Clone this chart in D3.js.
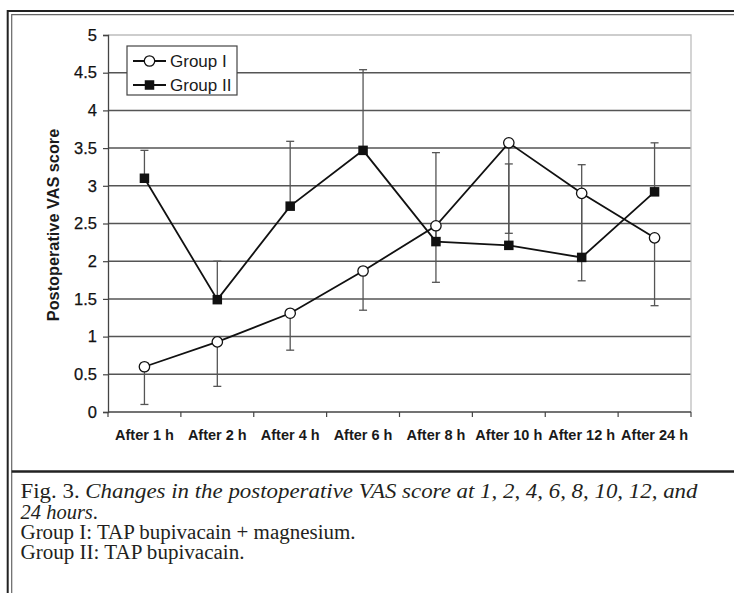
<!DOCTYPE html>
<html>
<head>
<meta charset="utf-8">
<script src="https://cdn.jsdelivr.net/npm/d3@7"></script>
<style>
  html, body { margin: 0; padding: 0; background: #fff; }
  svg { display: block; }
</style>
</head>
<body>
<svg id="chart" width="734" height="593"></svg>
<script>
// ---- Data ----
const categories = ["After 1 h", "After 2 h", "After 4 h", "After 6 h", "After 8 h", "After 10 h", "After 12 h", "After 24 h"];
const groupIMean  = [0.60, 0.93, 1.31, 1.87, 2.47, 3.57, 2.90, 2.31];
const groupIErr   = [0.50, 0.59, 0.49, 0.52, 0.75, 1.20, 1.16, 0.90]; // drawn downward
const groupIIMean = [3.10, 1.49, 2.73, 3.47, 2.26, 2.21, 2.05, 2.92];
const groupIIErr  = [0.37, 0.51, 0.86, 1.07, 1.18, 1.08, 1.23, 0.65]; // drawn upward
const yTicks = [0, 0.5, 1, 1.5, 2, 2.5, 3, 3.5, 4, 4.5, 5];
const seriesNames = ["Group I", "Group II"];
const yTitle = "Postoperative VAS score";

const svg = d3.select("#chart");
const sans = "Arial, 'Liberation Sans', sans-serif";
const serif = "'Liberation Serif', 'Times New Roman', serif";

const x = d3.scaleBand().domain(categories).range([108, 691]);
const y = d3.scaleLinear().domain([0, 5]).range([412, 35]);
const cx = c => x(c) + x.bandwidth() / 2;

// ---- Frame ----
svg.append("path").attr("d", "M7.7,593V11H734").attr("fill", "none").attr("stroke", "#222").attr("stroke-width", 2);
svg.append("path").attr("d", "M11.7,593V14.7H734").attr("fill", "none").attr("stroke", "#666").attr("stroke-width", 1.2);
svg.append("path").attr("d", "M11.7,471.5H734").attr("fill", "none").attr("stroke", "#222").attr("stroke-width", 2.5);

// ---- Grid ----
const g = svg.append("g");
g.selectAll("line.grid").data(yTicks.filter(t => t > 0 && t < 5)).join("line")
  .attr("class", "grid")
  .attr("x1", x.range()[0]).attr("x2", x.range()[1])
  .attr("y1", d => y(d)).attr("y2", d => y(d))
  .attr("stroke", "#555").attr("stroke-width", 1.5);

// plot area border (light)
g.append("path")
  .attr("d", `M${x.range()[0]},${y(5)}H${x.range()[1]}V${y(0)}`)
  .attr("fill", "none").attr("stroke", "#bdbdbd").attr("stroke-width", 1.3);

// ---- Axes ----
const yAxis = d3.axisLeft(y).tickValues(yTicks).tickSize(5).tickPadding(6).tickFormat(d => String(d));
const ya = g.append("g").attr("transform", `translate(${x.range()[0]},0)`).call(yAxis);
ya.select(".domain").attr("stroke", "#444").attr("stroke-width", 1.3);
ya.selectAll(".tick line").attr("stroke", "#444").attr("stroke-width", 1.2);
ya.selectAll(".tick text").attr("font-family", sans).attr("font-size", 16.5).attr("fill", "#111")
  .attr("stroke", "#111").attr("stroke-width", 0.25);

// x axis line
g.append("line").attr("x1", x.range()[0]).attr("x2", x.range()[1])
  .attr("y1", y(0)).attr("y2", y(0)).attr("stroke", "#444").attr("stroke-width", 1.4);
// boundary ticks
const bounds = categories.map(c => x(c)).concat([x.range()[1]]);
g.selectAll("line.xt").data(bounds).join("line").attr("class", "xt")
  .attr("x1", d => d).attr("x2", d => d).attr("y1", y(0)).attr("y2", y(0) + 5)
  .attr("stroke", "#444").attr("stroke-width", 1.2);
// category labels
g.selectAll("text.xl").data(categories).join("text").attr("class", "xl")
  .attr("x", d => cx(d)).attr("y", 440)
  .attr("text-anchor", "middle").attr("font-family", sans).attr("font-weight", "bold")
  .attr("font-size", 14.5).attr("fill", "#1a1a1a").text(d => d);

// y title
g.append("text").attr("transform", "translate(59,225) rotate(-90)")
  .attr("text-anchor", "middle").attr("font-family", sans).attr("font-weight", "bold")
  .attr("font-size", 16.3).attr("fill", "#1a1a1a").text(yTitle);

// ---- Error bars ----
function errBars(means, errs, dir) {
  const data = categories.map((c, i) => ({ c, m: means[i], e: errs[i] }));
  const eg = g.append("g").attr("stroke", "#555").attr("stroke-width", 1.3);
  eg.selectAll("line.v").data(data).join("line")
    .attr("x1", d => cx(d.c)).attr("x2", d => cx(d.c))
    .attr("y1", d => y(d.m)).attr("y2", d => y(d.m + dir * d.e));
  eg.selectAll("line.cap").data(data).join("line")
    .attr("x1", d => cx(d.c) - 4).attr("x2", d => cx(d.c) + 4)
    .attr("y1", d => y(d.m + dir * d.e)).attr("y2", d => y(d.m + dir * d.e));
}
errBars(groupIMean, groupIErr, -1);
errBars(groupIIMean, groupIIErr, 1);

// ---- Lines ----
const line = d3.line().x((d, i) => cx(categories[i])).y(d => y(d));
g.append("path").datum(groupIMean).attr("d", line).attr("fill", "none").attr("stroke", "#111").attr("stroke-width", 1.8);
g.append("path").datum(groupIIMean).attr("d", line).attr("fill", "none").attr("stroke", "#111").attr("stroke-width", 1.8);

// ---- Markers ----
g.selectAll("circle.m1").data(groupIMean).join("circle").attr("class", "m1")
  .attr("cx", (d, i) => cx(categories[i])).attr("cy", d => y(d)).attr("r", 5.2)
  .attr("fill", "#fff").attr("stroke", "#111").attr("stroke-width", 1.3);
const sq = 9.5;
g.selectAll("rect.m2").data(groupIIMean).join("rect").attr("class", "m2")
  .attr("x", (d, i) => cx(categories[i]) - sq / 2).attr("y", d => y(d) - sq / 2)
  .attr("width", sq).attr("height", sq).attr("fill", "#111");

// ---- Legend ----
const lg = svg.append("g");
lg.append("rect").attr("x", 127).attr("y", 46).attr("width", 110).attr("height", 49)
  .attr("fill", "#fff").attr("stroke", "#444").attr("stroke-width", 1.2);
const rows = [61, 85];
seriesNames.forEach((name, i) => {
  lg.append("line").attr("x1", 133).attr("x2", 166).attr("y1", rows[i]).attr("y2", rows[i])
    .attr("stroke", "#111").attr("stroke-width", 1.8);
  if (i === 0) {
    lg.append("circle").attr("cx", 149.5).attr("cy", rows[i]).attr("r", 5.2)
      .attr("fill", "#fff").attr("stroke", "#111").attr("stroke-width", 1.3);
  } else {
    lg.append("rect").attr("x", 149.5 - sq / 2).attr("y", rows[i] - sq / 2)
      .attr("width", sq).attr("height", sq).attr("fill", "#111");
  }
  lg.append("text").attr("x", 170).attr("y", rows[i] + 5.5)
    .attr("font-family", sans).attr("font-size", 17).attr("fill", "#1a1a1a").text(name);
});

// ---- Caption ----
const cap = svg.append("g").attr("font-family", serif).attr("font-size", 20.5).attr("fill", "#231f20");
const l1 = cap.append("text").attr("x", 20.5).attr("y", 498)
  .attr("textLength", 677).attr("lengthAdjust", "spacingAndGlyphs");
l1.append("tspan").text("Fig. 3. ");
l1.append("tspan").attr("font-style", "italic").text("Changes in the postoperative VAS score at 1, 2, 4, 6, 8, 10, 12, and");
const l2 = cap.append("text").attr("x", 20.5).attr("y", 518.5);
l2.append("tspan").attr("font-style", "italic").text("24 hours");
l2.append("tspan").text(".");
cap.append("text").attr("x", 20.5).attr("y", 539)
  .attr("textLength", 335).attr("lengthAdjust", "spacingAndGlyphs")
  .text("Group I: TAP bupivacain + magnesium.");
cap.append("text").attr("x", 20.5).attr("y", 559)
  .attr("textLength", 224).attr("lengthAdjust", "spacingAndGlyphs")
  .text("Group II: TAP bupivacain.");
</script>
</body>
</html>
